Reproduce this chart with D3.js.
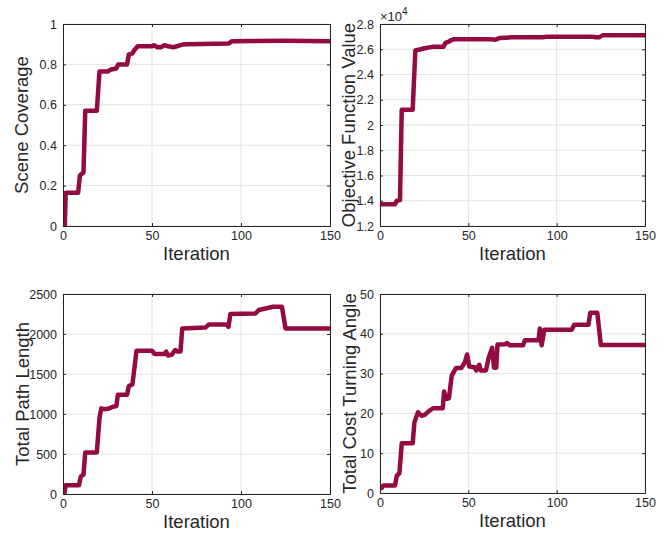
<!DOCTYPE html>
<html>
<head>
<meta charset="utf-8">
<script src="https://cdn.jsdelivr.net/npm/d3@7"></script>
<style>
  body { margin: 0; background: #fff; }
  text { font-family: "Liberation Sans", Arial, sans-serif; fill: #262626; }
</style>
</head>
<body>
<script>
// ---- data (iteration, value breakpoints) ----
var coverageIter = [1, 1.5, 8.5, 9.5, 11.5, 12.5, 19, 20.5, 25, 27, 30, 31, 36, 37, 39, 40, 42, 50, 51, 53, 55, 57, 59, 62, 64, 67, 70, 93, 95, 125, 150];
var coverageVal  = [0, 0.165, 0.165, 0.25, 0.265, 0.57, 0.57, 0.765, 0.765, 0.775, 0.78, 0.8, 0.8, 0.85, 0.855, 0.87, 0.89, 0.89, 0.895, 0.885, 0.885, 0.895, 0.89, 0.885, 0.89, 0.898, 0.9, 0.903, 0.915, 0.917, 0.915];

var objectiveIter = [1, 8.5, 9.5, 11.3, 12.3, 18.5, 20, 23, 26, 28, 30, 36, 37, 39, 40, 42, 63, 65, 68, 75, 92, 95, 120, 122, 124, 126, 150];
var objectiveVal  = [13720, 13720, 14000, 14050, 21200, 21200, 25900, 26000, 26100, 26150, 26200, 26200, 26500, 26600, 26700, 26800, 26800, 26750, 26900, 26950, 26950, 27000, 27000, 26950, 26950, 27100, 27100];

var pathIter = [0.7, 1.5, 9, 10, 11.5, 12.5, 19, 20.5, 21.5, 23, 26, 28, 30, 30.8, 36, 37, 39, 41.3, 50, 51.5, 57, 58, 59, 61, 63, 64.5, 66, 67, 80, 82, 92, 93, 94, 108, 110, 118, 123, 125, 150];
var pathVal  = [0, 110, 110, 220, 240, 520, 520, 950, 1070, 1060, 1070, 1090, 1100, 1240, 1240, 1350, 1370, 1790, 1790, 1750, 1750, 1780, 1730, 1740, 1800, 1780, 1780, 2070, 2080, 2120, 2120, 2090, 2250, 2255, 2300, 2340, 2340, 2070, 2070];

var angleIter = [1, 2, 8.5, 9.5, 11, 12.3, 18.5, 19.5, 21.5, 23.5, 25.5, 27.5, 30, 35.5, 36.3, 37.3, 39, 40.6, 43, 46, 48, 49.3, 50.5, 53.5, 54.5, 56.2, 57, 60, 61.5, 63.5, 64.5, 65.8, 66.5, 71, 72, 73.5, 81, 82, 89.7, 90.5, 91.5, 93, 108.5, 110, 118, 119, 123, 125, 150];
var angleVal  = [1.3, 1.9, 1.9, 4.3, 5, 12.5, 12.5, 17.8, 20.3, 19.4, 19.7, 20.5, 21.3, 21.3, 25.5, 23.6, 23.8, 29.5, 31.4, 31.4, 32.8, 34.8, 31.8, 31.6, 30.8, 32.2, 30.8, 30.8, 34, 36.5, 31.5, 31.5, 37.3, 37.4, 37.7, 37.1, 37.1, 38.4, 38.4, 41.3, 37.1, 41, 41, 42.3, 42.3, 45.3, 45.3, 37.2, 37.2];

var xTicks = [0, 50, 100, 150];
var coverageTicks = [0, 0.2, 0.4, 0.6, 0.8, 1];
var objectiveTicks = [12000, 14000, 16000, 18000, 20000, 22000, 24000, 26000, 28000];
var pathTicks = [0, 500, 1000, 1500, 2000, 2500];
var angleTicks = [0, 10, 20, 30, 40, 50];

// ---- layout ----
var W = 664, H = 533;
var lineColor = "#930b42";
var axisColor = "#262626";
var gridColor = "#e3e3e3";

var panels = [
  { label: "Scene Coverage", iter: coverageIter, val: coverageVal, ticks: coverageTicks, domain: [0, 1],
    fmt: d3.format("~g"), box: [63, 24, 330, 226], labelX: 28 },
  { label: "Objective Function Value", iter: objectiveIter, val: objectiveVal, ticks: objectiveTicks, domain: [12000, 28000],
    fmt: d => d3.format("~g")(d / 1e4), box: [380, 24, 645, 226], labelX: 355, exponent: true },
  { label: "Total Path Length", iter: pathIter, val: pathVal, ticks: pathTicks, domain: [0, 2500],
    fmt: d3.format("d"), box: [63, 294, 330, 494], labelX: 29 },
  { label: "Total Cost Turning Angle", iter: angleIter, val: angleVal, ticks: angleTicks, domain: [0, 50],
    fmt: d3.format("d"), box: [380, 294, 645, 493], labelX: 356 }
];

var svg = d3.select("body").append("svg")
    .attr("width", W)
    .attr("height", H);

panels.forEach(function(p, k) {
  var x0 = p.box[0], y0 = p.box[1], x1 = p.box[2], y1 = p.box[3];

  var x = d3.scaleLinear().domain([0, 150]).range([x0, x1]);
  var y = d3.scaleLinear().domain(p.domain).range([y1, y0]);

  var g = svg.append("g");

  // grid
  g.selectAll(".vgrid").data(xTicks).enter().append("line")
    .attr("x1", d => x(d)).attr("x2", d => x(d))
    .attr("y1", y0).attr("y2", y1)
    .attr("stroke", gridColor).attr("stroke-width", 1);
  g.selectAll(".hgrid").data(p.ticks).enter().append("line")
    .attr("y1", d => y(d)).attr("y2", d => y(d))
    .attr("x1", x0).attr("x2", x1)
    .attr("stroke", gridColor).attr("stroke-width", 1);

  // data line
  var clipId = "clip" + k;
  svg.append("clipPath").attr("id", clipId)
    .append("rect").attr("x", x0).attr("y", y0).attr("width", x1 - x0).attr("height", y1 - y0);

  var pts = p.iter.map((it, i) => [it, p.val[i]]);
  g.append("path")
    .datum(pts)
    .attr("clip-path", "url(#" + clipId + ")")
    .attr("fill", "none")
    .attr("stroke", lineColor)
    .attr("stroke-width", 4.5)
    .attr("stroke-linejoin", "round")
    .attr("stroke-linecap", "round")
    .attr("d", d3.line().x(d => x(d[0])).y(d => y(d[1])));

  // axes (ticks inward, box all round)
  var tk = 3;
  g.append("g").attr("transform", "translate(0," + y1 + ")")
    .call(d3.axisBottom(x).tickValues(xTicks).tickSize(-tk).tickPadding(5).tickFormat(d3.format("d")));
  g.append("g").attr("transform", "translate(0," + y0 + ")")
    .call(d3.axisTop(x).tickValues(xTicks).tickSize(-tk).tickFormat(""));
  g.append("g").attr("transform", "translate(" + x0 + ",0)")
    .call(d3.axisLeft(y).tickValues(p.ticks).tickSize(-tk).tickPadding(6).tickFormat(p.fmt));
  g.append("g").attr("transform", "translate(" + x1 + ",0)")
    .call(d3.axisRight(y).tickValues(p.ticks).tickSize(-tk).tickFormat(""));

  g.selectAll(".domain").attr("stroke", axisColor).attr("stroke-width", 1);
  g.selectAll(".tick line").attr("stroke", axisColor);
  g.selectAll(".tick text")
    .attr("fill", axisColor)
    .style("font-family", '"Liberation Sans", Arial, sans-serif')
    .style("font-size", "12.5px");

  // x label
  g.append("text")
    .attr("x", (x0 + x1) / 2)
    .attr("y", y1 + 34)
    .attr("text-anchor", "middle")
    .style("font-size", "18.5px")
    .text("Iteration");

  // y label
  g.append("text")
    .attr("transform", "translate(" + p.labelX + "," + (y0 + y1) / 2 + ") rotate(-90)")
    .attr("text-anchor", "middle")
    .style("font-size", "18.5px")
    .text(p.label);

  if (p.exponent) {
    var ex = g.append("text")
      .attr("x", x0)
      .attr("y", y0 - 3)
      .style("font-size", "13px");
    ex.append("tspan").text("\u00d710");
    ex.append("tspan").attr("dy", -6).style("font-size", "10px").text("4");
  }
});
</script>
</body>
</html>
